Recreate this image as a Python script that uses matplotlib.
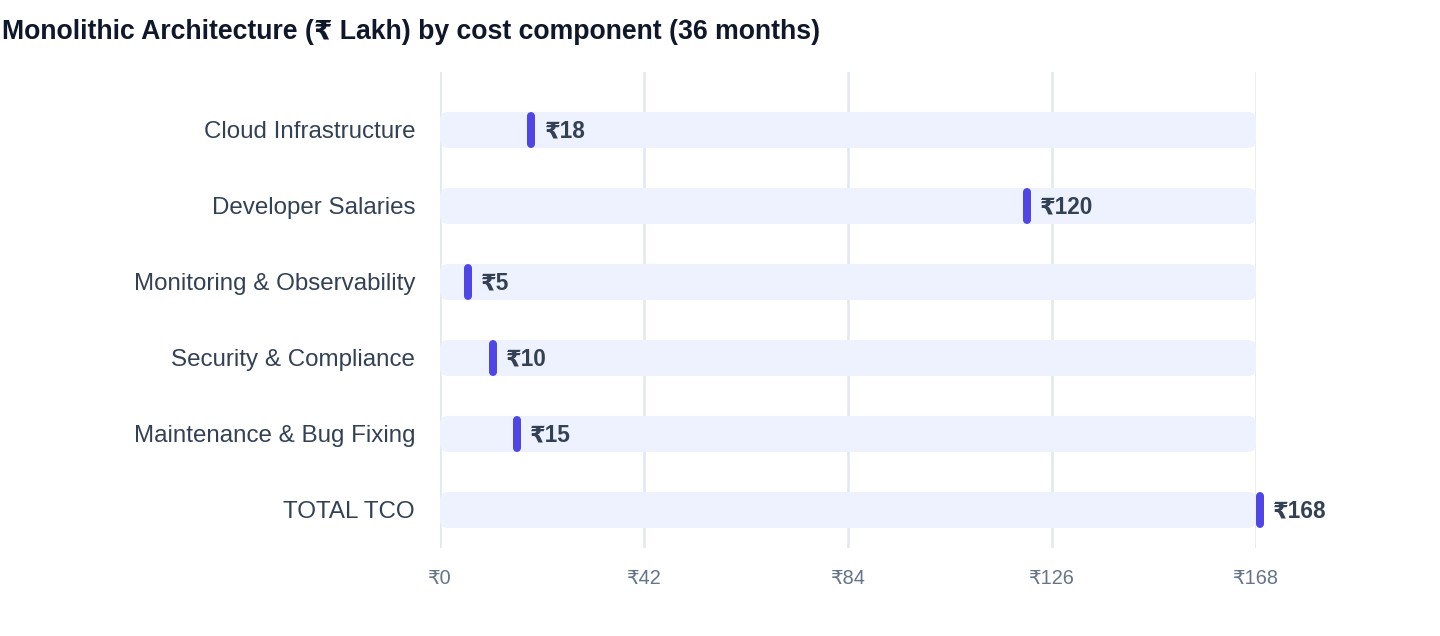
#!/usr/bin/env python
# -*- coding: utf-8 -*-
"""
Monolithic architecture cost components (36 months) as a dot/track chart
"""

import matplotlib
matplotlib.use('Agg')
import matplotlib.pyplot as plt
from matplotlib import transforms
from matplotlib.patches import FancyBboxPatch

# =============================================================================
# Define variables
# =============================================================================
TITLE = 'Monolithic Architecture (₹ Lakh) by cost component (36 months)'
categories = ['Cloud Infrastructure', 'Developer Salaries',
              'Monitoring & Observability', 'Security & Compliance',
              'Maintenance & Bug Fixing', 'TOTAL TCO']
values = [18, 120, 5, 10, 15, 168]
track_max = 168
ticks = [0, 42, 84, 126, 168]

TRACK_COLOR = '#EEF2FF'
MARK_COLOR = '#4F46E5'
TEXT_COLOR = '#334155'
TICK_COLOR = '#64748B'
GRID_COLOR = '#E2E8F0'

plt.rcParams['font.family'] = ['Liberation Sans', 'DejaVu Sans']

# =============================================================================
# Start of code
# =============================================================================
if __name__ == "__main__":
    W, H, DPI = 1440, 636, 100
    fig = plt.figure(figsize=(W / DPI, H / DPI), dpi=DPI)
    # plot area in pixels: x 440..1256, y 72..548
    ax = fig.add_axes([440 / W, (H - 548) / H, (1256 - 440) / W,
                       (548 - 72) / H])
    ax.set_xlim(0, track_max)
    ax.set_ylim(5.5, -0.763)

    px_x = track_max / 816.0     # data per pixel in x
    px_y = (5.5 + 0.763) / 476.0  # data per pixel in y

    # grid
    for t in ticks:
        ax.axvline(t, color=GRID_COLOR, lw=1.8, zorder=0)

    bar_h = 36 * px_y
    for i, (cat, val) in enumerate(zip(categories, values)):
        # background track
        track = FancyBboxPatch((0, i - bar_h / 2), track_max, bar_h,
                               boxstyle='round,pad=0,rounding_size=%f'
                                        % (8 * px_x),
                               mutation_aspect=px_y / px_x,
                               fc=TRACK_COLOR, ec='none', zorder=1)
        ax.add_patch(track)
        # marker pill, left edge at value
        trans = transforms.offset_copy(ax.transData, fig=fig, x=4, y=0,
                                       units='dots')
        half = (18 - 4) * px_y
        ax.plot([val, val], [i - half, i + half], color=MARK_COLOR,
                lw=8 * 72 / DPI, solid_capstyle='round', transform=trans,
                zorder=3, clip_on=False)
        # value label
        ltrans = transforms.offset_copy(ax.transData, fig=fig, x=17, y=-1,
                                        units='dots')
        ax.text(val, i, '₹%d' % val, transform=ltrans, ha='left',
                va='center', fontsize=16.3, fontweight='bold',
                color=TEXT_COLOR, clip_on=False)

    ax.set_yticks(range(len(categories)))
    ax.set_yticklabels(categories, fontsize=17.4, color=TEXT_COLOR)
    ax.set_xticks(ticks)
    ax.set_xticklabels(['₹%d' % t for t in ticks], fontsize=14.3,
                       color=TICK_COLOR)
    ax.tick_params(axis='y', length=0, pad=18)
    ax.tick_params(axis='x', length=0, pad=15)
    for s in ax.spines.values():
        s.set_visible(False)

    fig.text(2 / W, 1 - 32 / H, TITLE, fontsize=19.2, fontweight='bold',
             color='#0F172A', ha='left', va='center')

    fig.savefig('out.png', dpi=DPI)
    plt.close()

# =============================================================================
# End of code
# =============================================================================
